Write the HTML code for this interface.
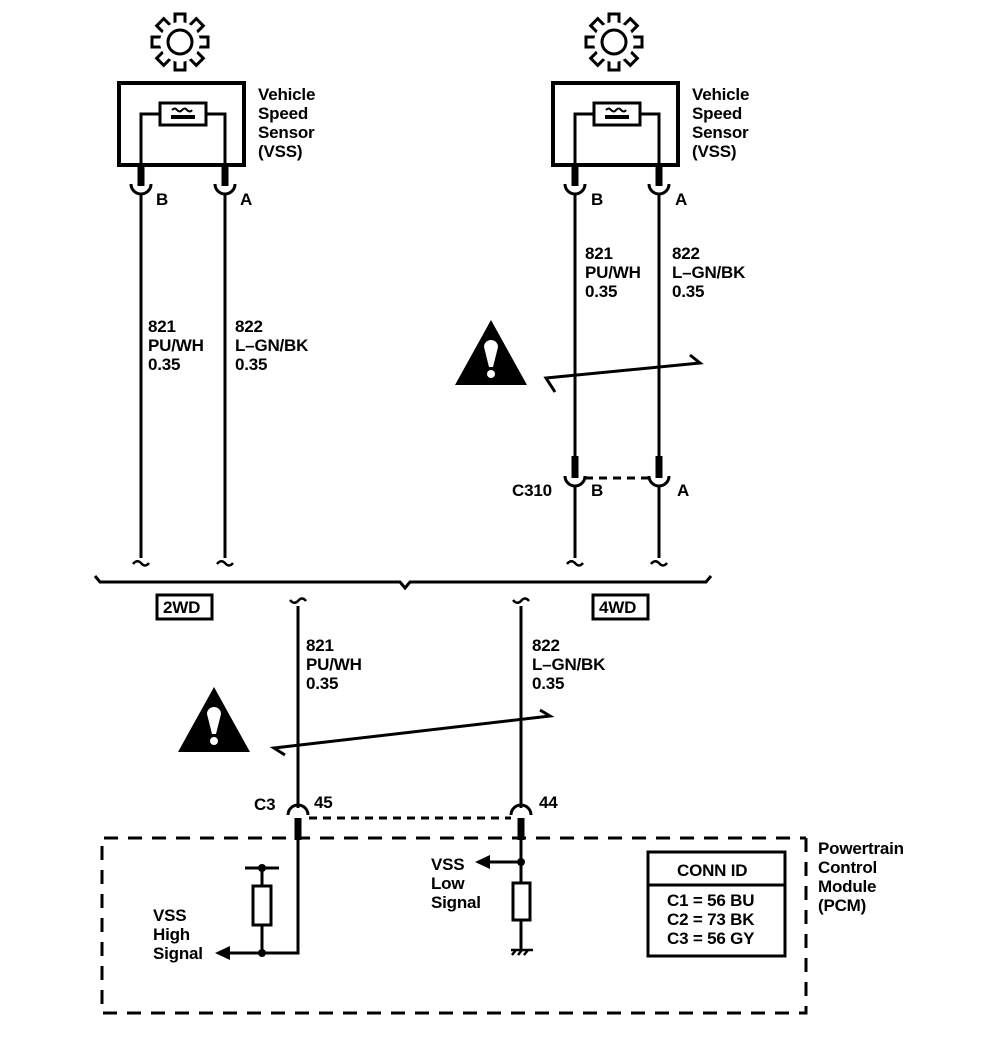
<!DOCTYPE html>
<html><head><meta charset="utf-8"><style>
body{margin:0;background:#fff}
text{font-family:"Liberation Sans",Arial,sans-serif;font-size:17px;font-weight:bold;letter-spacing:-0.2px;fill:#000}
</style></head><body>
<svg width="992" height="1052" viewBox="0 0 992 1052" xmlns="http://www.w3.org/2000/svg">
<defs>
<g id="gear">
  <g fill="#fff" stroke="#000" stroke-width="3">
    <rect x="-5" y="-28" width="10" height="14" transform="rotate(0)"/>
    <rect x="-5" y="-28" width="10" height="14" transform="rotate(45)"/>
    <rect x="-5" y="-28" width="10" height="14" transform="rotate(90)"/>
    <rect x="-5" y="-28" width="10" height="14" transform="rotate(135)"/>
    <rect x="-5" y="-28" width="10" height="14" transform="rotate(180)"/>
    <rect x="-5" y="-28" width="10" height="14" transform="rotate(225)"/>
    <rect x="-5" y="-28" width="10" height="14" transform="rotate(270)"/>
    <rect x="-5" y="-28" width="10" height="14" transform="rotate(315)"/>
  </g>
  <circle r="20" fill="#fff" stroke="none"/>
  <circle r="12" fill="none" stroke="#000" stroke-width="3"/>
</g>
<g id="sensor">
  <rect x="0" y="0" width="125" height="82" fill="none" stroke="#000" stroke-width="4"/>
  <path d="M22,82 V31 H41 M87,31 H106 V82" fill="none" stroke="#000" stroke-width="3"/>
  <rect x="41" y="20" width="46" height="22" fill="#fff" stroke="#000" stroke-width="3"/>
  <path d="M53,27 q3,-3 5,0 q3,3 5,0 q3,-3 5,0 q3,3 5,0" fill="none" stroke="#000" stroke-width="2"/>
  <rect x="52" y="32" width="24" height="4" fill="#000"/>
</g>
<g id="wave"><path d="M-8,4 q4,-5 8,-1 q4,5 8,0" fill="none" stroke="#000" stroke-width="2.5"/></g>
<g id="tri">
  <polygon points="0,-35 36,30 -36,30" fill="#000"/>
  <path d="M-7,-8 a7,7 0 0 1 14,0 L2,12 H-2 Z" fill="#fff"/>
  <circle cx="0" cy="19" r="4" fill="#fff"/>
</g>
</defs>

<use href="#gear" transform="translate(180,42)"/>
<use href="#sensor" transform="translate(119,83)"/>
<text x="258" y="100">Vehicle</text><text x="258" y="119">Speed</text><text x="258" y="138">Sensor</text><text x="258" y="157">(VSS)</text>
<use href="#gear" transform="translate(614,42)"/>
<use href="#sensor" transform="translate(553,83)"/>
<text x="692" y="100">Vehicle</text><text x="692" y="119">Speed</text><text x="692" y="138">Sensor</text><text x="692" y="157">(VSS)</text>

<g stroke="#000" fill="none">
  <path d="M141,165V186M225,165V186M575,165V186M659,165V186" stroke-width="7"/>
  <path d="M131,184a10,10 0 0 0 20,0M215,184a10,10 0 0 0 20,0M565,184a10,10 0 0 0 20,0M649,184a10,10 0 0 0 20,0" stroke-width="3"/>
  <path d="M141,194V558M225,194V558" stroke-width="3"/>
  <path d="M575,194V478M659,194V478" stroke-width="3"/>
  <path d="M575,456V478M659,456V478" stroke-width="7"/>
  <path d="M565,476a10,10 0 0 0 20,0M649,476a10,10 0 0 0 20,0" stroke-width="3"/>
  <path d="M585,478H649" stroke-width="3" stroke-dasharray="8,6"/>
  <path d="M575,486V558M659,486V558" stroke-width="3"/>
  <path d="M95,576l5,6H400l5,6l5,-6H706l5,-6" stroke-width="3"/>
  <path d="M555,392L546,378L700,363L690,355" stroke-width="3"/>
  <path d="M285,755L274,748L550,716L540,710" stroke-width="3"/>
  <path d="M298,606V808M521,606V808" stroke-width="3"/>
  <path d="M288,815a10,10 0 0 1 20,0M511,815a10,10 0 0 1 20,0" stroke-width="3"/>
  <path d="M298,818V840M521,818V840" stroke-width="7"/>
  <path d="M309,818H511" stroke-width="3" stroke-dasharray="8,6"/>
  <path d="M806,838V1013H102V838H806" stroke-width="3" stroke-dasharray="14,10"/>
  <path d="M298,840V953H228M262,953V925M262,886V868M245,868H279" stroke-width="3"/>
  <rect x="253" y="886" width="18" height="39" stroke-width="3"/>
  <path d="M521,840V883M521,920V950M521,862H488" stroke-width="3"/>
  <rect x="513" y="883" width="17" height="37" stroke-width="3"/>
  <path d="M511,950H533M512,955l4,-5M518,955l4,-5M524,955l4,-5" stroke-width="2.5"/>
  <rect x="648" y="852" width="137" height="104" stroke-width="3"/>
  <path d="M648,885H785" stroke-width="3"/>
</g>
<polygon points="215,953 230,946 230,960" fill="#000"/>
<polygon points="475,862 490,855 490,869" fill="#000"/>
<circle cx="262" cy="953" r="4"/><circle cx="262" cy="868" r="4"/><circle cx="521" cy="862" r="4"/>

<use href="#wave" transform="translate(141,560)"/><use href="#wave" transform="translate(225,560)"/>
<use href="#wave" transform="translate(575,560)"/><use href="#wave" transform="translate(659,560)"/>
<use href="#wave" transform="translate(298,604) scale(1,-1)"/><use href="#wave" transform="translate(521,604) scale(1,-1)"/>

<use href="#tri" transform="translate(491,355)"/>
<use href="#tri" transform="translate(214,722)"/>

<text x="156" y="205">B</text><text x="240" y="205">A</text>
<text x="591" y="205">B</text><text x="675" y="205">A</text>
<text x="148" y="332">821</text><text x="148" y="351">PU/WH</text><text x="148" y="370">0.35</text>
<text x="235" y="332">822</text><text x="235" y="351">L–GN/BK</text><text x="235" y="370">0.35</text>
<text x="585" y="259">821</text><text x="585" y="278">PU/WH</text><text x="585" y="297">0.35</text>
<text x="672" y="259">822</text><text x="672" y="278">L–GN/BK</text><text x="672" y="297">0.35</text>
<text x="512" y="496">C310</text><text x="591" y="496">B</text><text x="677" y="496">A</text>
<rect x="157" y="595" width="55" height="24" fill="none" stroke="#000" stroke-width="3"/>
<text x="163" y="613">2WD</text>
<rect x="593" y="595" width="55" height="24" fill="none" stroke="#000" stroke-width="3"/>
<text x="599" y="613">4WD</text>
<text x="306" y="651">821</text><text x="306" y="670">PU/WH</text><text x="306" y="689">0.35</text>
<text x="532" y="651">822</text><text x="532" y="670">L–GN/BK</text><text x="532" y="689">0.35</text>
<text x="254" y="810">C3</text><text x="314" y="808">45</text><text x="539" y="808">44</text>
<text x="153" y="921">VSS</text><text x="153" y="940">High</text><text x="153" y="959">Signal</text>
<text x="431" y="870">VSS</text><text x="431" y="889">Low</text><text x="431" y="908">Signal</text>
<text x="677" y="876">CONN ID</text>
<text x="667" y="906">C1 = 56 BU</text><text x="667" y="925">C2 = 73 BK</text><text x="667" y="944">C3 = 56 GY</text>
<text x="818" y="854">Powertrain</text><text x="818" y="873">Control</text><text x="818" y="892">Module</text><text x="818" y="911">(PCM)</text>
</svg>
</body></html>
